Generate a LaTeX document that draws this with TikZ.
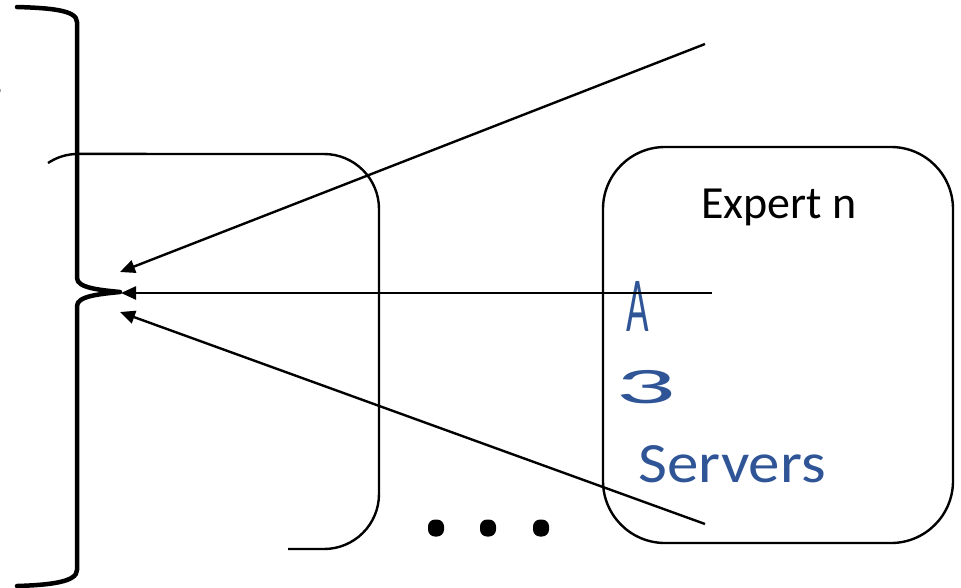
\documentclass[tikz,border=0pt]{standalone}
\usepackage{fontspec}
\setmainfont{Carlito}
\usetikzlibrary{arrows.meta}
\definecolor{inkblue}{HTML}{2F5597}
\tikzset{
  boxline/.style={line width=2.4pt, line join=round},
  braceline/.style={line width=4.5pt, line cap=round, line join=round},
  arrowline/.style={line width=2.4pt, -{Triangle[length=15pt,width=13pt]}},
  dotmark/.style={rectangle, rounded corners=7pt, fill=black, inner sep=0pt, minimum width=16pt, minimum height=17pt},
  ink/.style={text=inkblue, inner sep=0pt, font=\fontsize{60}{60}\selectfont},
}
\begin{document}
\begin{tikzpicture}[x=1pt,y=-1pt]
\useasboundingbox (0,0) rectangle (961,587);

% partial glyph at the left edge
\node[anchor=base east, inner sep=0pt, font=\fontsize{46}{46}\selectfont] (cut) at (3,92) {2};

% brace
\draw[braceline] (17,7) .. controls (50,8) and (77,10) .. (77,22)
  -- (77,278) .. controls (77,288) and (100,290) .. (120,292)
  .. controls (100,294) and (77,296) .. (77,306)
  -- (77,570) .. controls (77,582) and (50,585) .. (17,586);

% partial left box
\draw[boxline] (48,163) arc[start angle=-123.7, end angle=-90, radius=54]
  -- (324,154) arc[start angle=-90, end angle=0, radius=55]
  -- (379,494) arc[start angle=0, end angle=90, radius=55]
  -- (288,549);

% Expert n box
\node[draw, boxline, rounded corners=62pt, minimum width=350pt, minimum height=396pt, inner sep=0pt] (expert) at (778,345) {};
\node[font=\fontsize{46}{46}\selectfont, inner sep=0pt] (exptext) at (779,207) {Expert n};

% handwriting
\node[ink, xscale=0.65, yscale=1.3] (hA) at (638,306) {A};
\node[ink, xscale=2.0, yscale=0.85] (h3) at (646,387) {3};
\node[ink, xscale=1.05, yscale=0.95] (hS) at (732,464) {Servers};

% arrows
\coordinate (s1) at (705,44);
\coordinate (s2) at (712,293);
\coordinate (s3) at (705,524);
\coordinate (t1) at (120,272);
\coordinate (t2) at (121,293);
\coordinate (t3) at (120,312);
\draw[arrowline] (s1) -- (t1);
\draw[arrowline] (s2) -- (t2);
\draw[arrowline] (s3) -- (t3);

% dots
\node[dotmark] (d1) at (436,528) {};
\node[dotmark] (d2) at (488,528) {};
\node[dotmark] (d3) at (541,528) {};
\end{tikzpicture}
\end{document}
